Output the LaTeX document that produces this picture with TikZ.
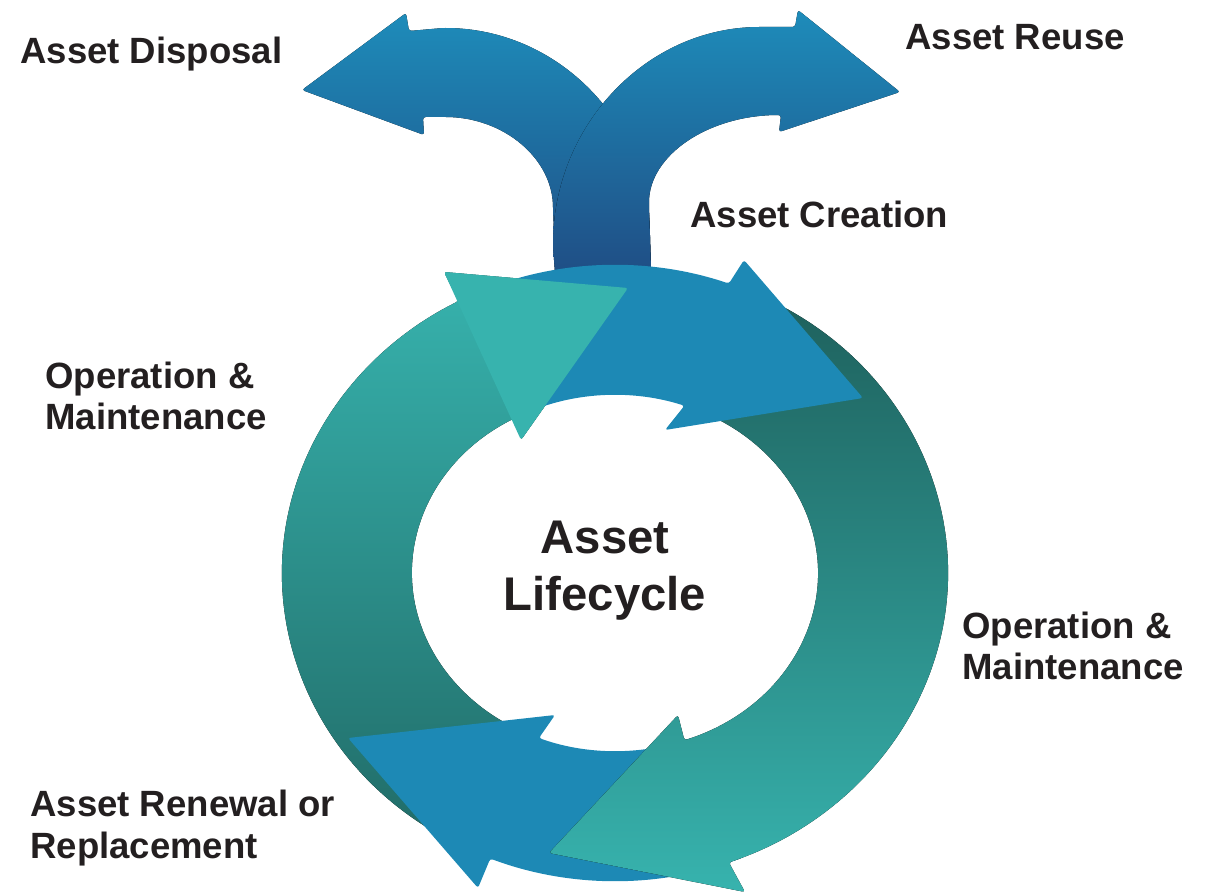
\documentclass[tikz,border=0pt]{standalone}
\usepackage{fontspec}
\setmainfont{Liberation Sans}
\usetikzlibrary{calc}

\definecolor{ringBlue}{HTML}{1D89B5}
\definecolor{tealLight}{HTML}{37B3AE}
\definecolor{tealMid}{HTML}{2E9D98}
\definecolor{tealDark}{HTML}{1E605C}
\definecolor{tealDeep}{HTML}{216C68}
\definecolor{forkTop}{HTML}{1E8CBA}
\definecolor{forkBottom}{HTML}{1F4880}
\definecolor{labelInk}{HTML}{231F20}

\tikzset{
  stage/.style={font=\bfseries\fontsize{20.8}{23.8}\selectfont, text=labelInk, inner sep=0pt, align=left},
  hub/.style={font=\bfseries\fontsize{26.9}{32.3}\selectfont, text=labelInk, inner sep=0pt, align=center},
  fork/.style={top color=forkTop, bottom color=forkBottom},
  head/.style={rounded corners=1.5pt}
}

\begin{document}
\begin{tikzpicture}[x=0.02cm, y=0.02cm]
    \useasboundingbox (0,0) rectangle (1205,-895);
    \coordinate (ctr) at (615,-573);

    % fork at the top
    \fill[fork, head] (302,-90) -- (406,-13) -- (409,-31) -- (443,-28)
        arc[start angle=90, end angle=0, x radius=207, y radius=210] -- (652,-300) -- (557,-300) -- (553,-210)
        arc[start angle=0, end angle=90, x radius=110, y radius=93] -- (423,-117) -- (424,-135) -- cycle;
    \fill[fork, head] (900,-92) -- (798,-10) -- (795,-27) -- (762,-27)
        arc[start angle=90, end angle=180, x radius=209, y radius=220] -- (557,-300) -- (652,-300) -- (649,-205)
        arc[start angle=180, end angle=90, x radius=132, y radius=90] -- (779,-132) -- cycle;

    % ring arrows
    \fill[head, top color=tealLight, middle color=tealLight!92!tealDeep, bottom color=tealDeep]
        ([shift={(240:333 and 308)}]ctr) arc[start angle=240, end angle=118, x radius=333, y radius=308]
        -- (444,-272) -- (628,-288) -- (521,-440)
        -- ([shift={(118:203 and 178)}]ctr) arc[start angle=118, end angle=240, x radius=203, y radius=178] -- cycle;
    \fill[head, ringBlue]
        ([shift={(-67:333 and 308)}]ctr) arc[start angle=-67, end angle=-112, x radius=333, y radius=308]
        -- (478,-888) -- (348,-738) -- (555,-715)
        -- ([shift={(-112:203 and 178)}]ctr) arc[start angle=-112, end angle=-67, x radius=203, y radius=178] -- cycle;
    \fill[head, top color=tealDark, middle color=tealMid, bottom color=tealLight]
        ([shift={(67:333 and 308)}]ctr) arc[start angle=67, end angle=-70, x radius=333, y radius=308]
        -- (745,-892) -- (549,-853) -- (678,-715)
        -- ([shift={(-70:203 and 178)}]ctr) arc[start angle=-70, end angle=67, x radius=203, y radius=178] -- cycle;
    \fill[head, ringBlue]
        ([shift={(115:333 and 308)}]ctr) arc[start angle=115, end angle=70, x radius=333, y radius=308]
        -- (744,-260) -- (863,-398) -- (665,-430)
        -- ([shift={(70:203 and 178)}]ctr) arc[start angle=70, end angle=115, x radius=203, y radius=178] -- cycle;
    \fill[head, tealLight] (444,-272) -- (628,-288) -- (521,-440) -- cycle;

    \node[stage, anchor=base west] (disposal) at (20,-64) {Asset Disposal};
    \node[stage, anchor=base west] (reuse) at (905,-50) {Asset Reuse};
    \node[stage, anchor=base west] (creation) at (690,-228) {Asset Creation};
    \node[stage, anchor=base west] (opleft) at (45,-430) {Operation \&\\Maintenance};
    \node[stage, anchor=base west] (opright) at (962,-680) {Operation \&\\Maintenance};
    \node[stage, anchor=base west] (renewal) at (30,-858) {Asset Renewal or\\Replacement};
    \node[hub, anchor=base] (lifecycle) at (605,-610) {Asset\\Lifecycle};
\end{tikzpicture}
\end{document}
